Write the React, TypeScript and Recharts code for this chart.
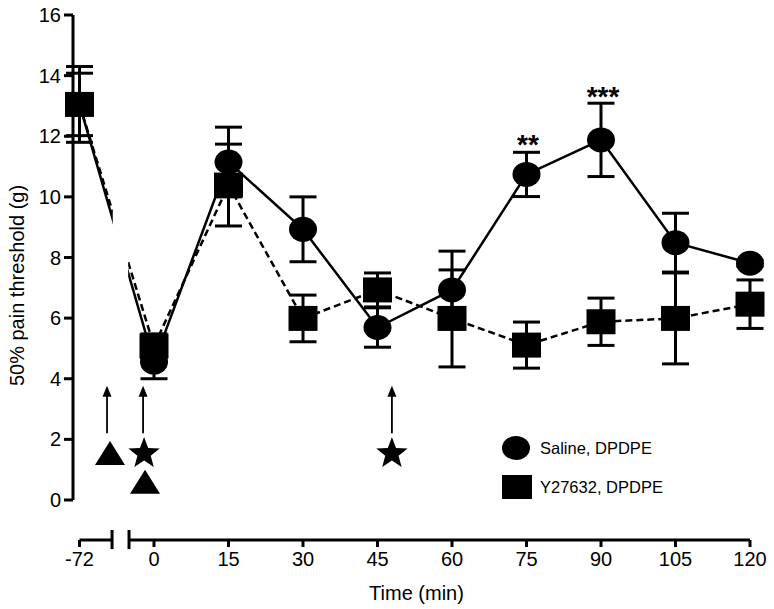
import React from 'react';
import {
  ComposedChart,
  Line,
  Scatter,
  XAxis,
  YAxis,
  ErrorBar,
  ReferenceLine,
  ReferenceArea,
  Legend,
  Label,
} from 'recharts';

// ---------- data ----------
const timeLabels = ['-72', '0', '15', '30', '45', '60', '75', '90', '105', '120'];
// position on the (broken) time axis; the -72 baseline sits left of the axis break
const timeAxisPos = [-15, 0, 15, 30, 45, 60, 75, 90, 105, 120];

const salineDpdpe = [13.05, 4.55, 11.15, 8.93, 5.69, 6.93, 10.74, 11.88, 8.49, 7.81];
const salineErr = [1.25, 0.55, 1.15, 1.07, 0.65, 1.28, 0.73, 1.21, 0.97, 0.1];
const y27632Dpdpe = [13.05, 5.08, 10.39, 5.99, 6.93, 5.99, 5.11, 5.88, 5.99, 6.46];
const y27632Err = [1.03, 0.4, 1.35, 0.77, 0.56, 1.6, 0.76, 0.78, 1.5, 0.8];

const yTicks = [0, 2, 4, 6, 8, 10, 12, 14, 16];

const arrowXs = [-9.46, -2.2, 47.9];
const arrowTail = 2.2;
const arrowTip = 3.77;
const triangleMarks = [
  { t: -8.86, v: 1.55 },
  { t: -1.81, v: 0.6 },
];
const starMarks = [
  { t: -2.0, v: 1.53 },
  { t: 47.9, v: 1.53 },
];
const sigMarks = [
  { t: 75.3, v: 11.94, text: '**' },
  { t: 90.4, v: 13.53, text: '***' },
];

const seriesNames = { saline: 'Saline, DPDPE', y27632: 'Y27632, DPDPE' };

// ---------- layout constants ----------
const X_MIN = -16.31;
const X_MAX = 120;
const Y_MIN = -1.32;
const Y_MAX = 16;
const BREAK_L = -8.45;
const BREAK_R = -5.03;
const FONT = '"Liberation Sans", Arial, sans-serif';

const rows = timeAxisPos.map((t, i) => ({
  t,
  label: timeLabels[i],
  saline: salineDpdpe[i],
  salineErr: salineErr[i],
  y27632: y27632Dpdpe[i],
  y27632Err: y27632Err[i],
}));
const arrowHeads = arrowXs.map((t) => ({ t, v: arrowTip }));

const CircleDot = (p: any) => {
  if (p.cx == null || p.cy == null) return <g key={p.index} />;
  return <ellipse key={p.index} cx={p.cx} cy={p.cy} rx={14} ry={12.5} fill="#000" />;
};
const SquareDot = (p: any) => {
  if (p.cx == null || p.cy == null) return <g key={p.index} />;
  return <rect key={p.index} x={p.cx - 14.5} y={p.cy - 12.5} width={29} height={25} fill="#000" />;
};

const starPath = (cx: number, cy: number, R: number, r: number) => {
  let d = '';
  for (let i = 0; i < 10; i++) {
    const rad = i % 2 === 0 ? R : r;
    const a = -Math.PI / 2 + (i * Math.PI) / 5;
    d += (i ? 'L' : 'M') + (cx + rad * Math.cos(a)).toFixed(2) + ',' + (cy + rad * Math.sin(a)).toFixed(2);
  }
  return d + 'Z';
};

const TriangleShape = (p: any) => (
  <polygon
    points={`${p.cx},${p.cy - 12} ${p.cx - 15},${p.cy + 12} ${p.cx + 15},${p.cy + 12}`}
    fill="#000"
  />
);
const StarShape = (p: any) => <path d={starPath(p.cx, p.cy, 16.5, 7)} fill="#000" />;
const ArrowHeadShape = (p: any) => (
  <polygon points={`${p.cx},${p.cy} ${p.cx - 4.5},${p.cy + 11} ${p.cx + 4.5},${p.cy + 11}`} fill="#000" />
);
const SigShape = (p: any) => (
  <text
    x={p.cx}
    y={p.cy + 16}
    textAnchor="middle"
    fontFamily={FONT}
    fontSize={28}
    fontWeight="bold"
    fill="#000"
  >
    {p.payload.text}
  </text>
);

const YLabel = (props: any) => {
  const vb = props.viewBox || { x: 13, y: 15, width: 60, height: 525 };
  const cx = vb.x + 4;
  const cy = vb.y + vb.height / 2 + 8;
  return (
    <text
      x={cx}
      y={cy}
      transform={`rotate(-90 ${cx} ${cy})`}
      textAnchor="middle"
      dominantBaseline="central"
      fontFamily={FONT}
      fontSize={20}
      fill="#000"
    >
      50% pain threshold (g)
    </text>
  );
};

const XLabel = (props: any) => {
  const vb = props.viewBox || { x: 73, y: 540, width: 677, height: 40 };
  const cx = vb.x + vb.width / 2 + 5;
  const cy = vb.y + 53;
  return (
    <text x={cx} y={cy} textAnchor="middle" dominantBaseline="central" fontFamily={FONT} fontSize={20} fill="#000">
      Time (min)
    </text>
  );
};

const renderLegend = () => (
  <svg width={180} height={72} style={{ display: 'block' }}>
    <ellipse cx={16} cy={15} rx={14} ry={12} fill="#000" />
    <text x={40} y={15} dominantBaseline="central" fontFamily={FONT} fontSize={16.5} fill="#000">
      {seriesNames.saline}
    </text>
    <rect x={2} y={42} width={30} height={24} fill="#000" />
    <text x={40} y={54} dominantBaseline="central" fontFamily={FONT} fontSize={16.5} fill="#000">
      {seriesNames.y27632}
    </text>
  </svg>
);

export default function App() {
  return (
    <div style={{ position: 'absolute', left: 0, top: 0, background: '#fff' }}>
      <ComposedChart
        width={774}
        height={609}
        data={rows}
        margin={{ top: 15, right: 24, left: 13, bottom: 29 }}
      >
        <XAxis
          type="number"
          dataKey="t"
          domain={[X_MIN, X_MAX]}
          ticks={timeAxisPos}
          interval={0}
          tickFormatter={(v: number) => timeLabels[timeAxisPos.indexOf(v)]}
          axisLine={false}
          tickLine={{ stroke: '#000', strokeWidth: 3 }}
          tickSize={7}
          tickMargin={5}
          height={40}
          tick={{ fill: '#000', fontSize: 20, fontFamily: FONT }}
        >
          <Label content={XLabel} />
        </XAxis>
        <YAxis
          type="number"
          domain={[Y_MIN, Y_MAX]}
          ticks={yTicks}
          interval={0}
          axisLine={false}
          tickLine={{ stroke: '#000', strokeWidth: 3 }}
          tickSize={9}
          tickMargin={3}
          width={60}
          tick={{ fill: '#000', fontSize: 20, fontFamily: FONT }}
        >
          <Label content={YLabel} />
        </YAxis>

        {/* axis lines */}
        <ReferenceLine
          segment={[{ x: X_MIN, y: 0 }, { x: X_MIN, y: Y_MAX }]}
          stroke="#000"
          strokeWidth={3}
          ifOverflow="visible"
        />
        <ReferenceLine
          segment={[{ x: -15, y: Y_MIN }, { x: BREAK_L, y: Y_MIN }]}
          stroke="#000"
          strokeWidth={3}
          ifOverflow="visible"
        />
        <ReferenceLine
          segment={[{ x: BREAK_R, y: Y_MIN }, { x: X_MAX, y: Y_MIN }]}
          stroke="#000"
          strokeWidth={3}
          ifOverflow="visible"
        />
        <ReferenceLine
          segment={[{ x: BREAK_L, y: -0.99 }, { x: BREAK_L, y: -1.62 }]}
          stroke="#000"
          strokeWidth={3}
          ifOverflow="visible"
        />
        <ReferenceLine
          segment={[{ x: BREAK_R, y: -0.99 }, { x: BREAK_R, y: -1.62 }]}
          stroke="#000"
          strokeWidth={3}
          ifOverflow="visible"
        />

        <Line
          dataKey="saline"
          name={seriesNames.saline}
          stroke="#000"
          strokeWidth={2.5}
          dot={CircleDot}
          activeDot={false}
          isAnimationActive={false}
        >
          <ErrorBar dataKey="salineErr" width={13.5} strokeWidth={3} stroke="#000" direction="y" />
        </Line>
        <Line
          dataKey="y27632"
          name={seriesNames.y27632}
          stroke="#000"
          strokeWidth={2.5}
          strokeDasharray="7 4"
          dot={SquareDot}
          activeDot={false}
          isAnimationActive={false}
        >
          <ErrorBar dataKey="y27632Err" width={13.5} strokeWidth={3} stroke="#000" direction="y" />
        </Line>

        {/* gap in the connecting lines across the axis break */}
        <ReferenceArea
          x1={-8.3}
          x2={-5.2}
          y1={6.5}
          y2={10.5}
          fill="#fff"
          fillOpacity={1}
          stroke="none"
          ifOverflow="visible"
          {...({ zIndex: 450 } as any)}
        />

        {/* arrows */}
        {arrowXs.map((x) => (
          <ReferenceLine
            key={`arr-${x}`}
            segment={[{ x, y: arrowTail }, { x, y: arrowTip - 0.2 }]}
            stroke="#000"
            strokeWidth={1.8}
            ifOverflow="visible"
          />
        ))}
        <Scatter data={arrowHeads} dataKey="v" shape={ArrowHeadShape} legendType="none" isAnimationActive={false} />
        <Scatter data={triangleMarks} dataKey="v" shape={TriangleShape} legendType="none" isAnimationActive={false} />
        <Scatter data={starMarks} dataKey="v" shape={StarShape} legendType="none" isAnimationActive={false} />
        <Scatter data={sigMarks} dataKey="v" shape={SigShape} legendType="none" isAnimationActive={false} />

        <Legend
          layout="vertical"
          align="center"
          verticalAlign="middle"
          content={renderLegend}
          wrapperStyle={{ position: 'absolute', left: 500, top: 433, width: 180, height: 72 }}
        />
      </ComposedChart>
    </div>
  );
}
